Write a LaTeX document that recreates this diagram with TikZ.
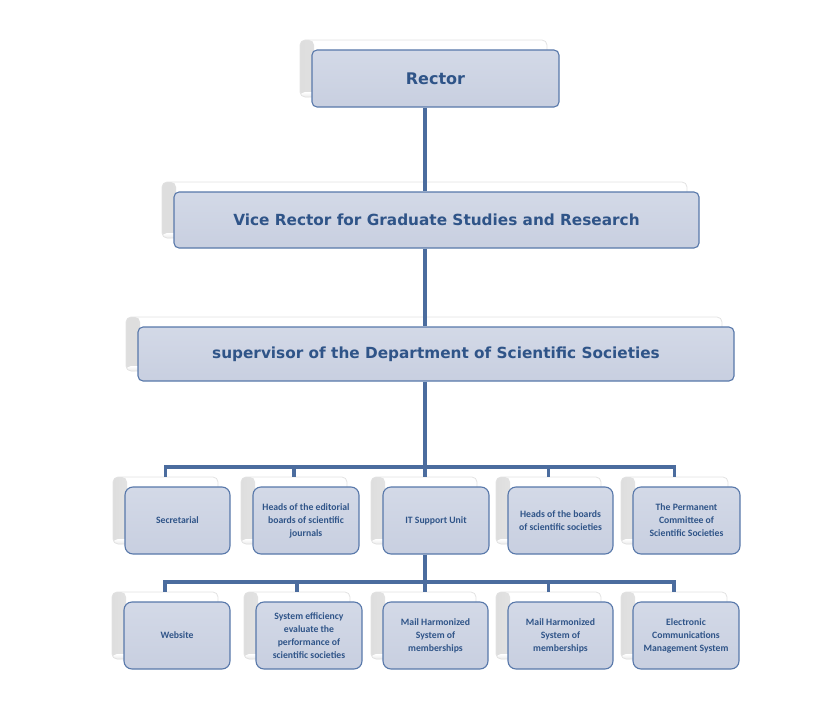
\documentclass[tikz,border=0pt]{standalone}
\usepackage{fontspec}
\setmainfont{DejaVu Sans}
\newfontfamily\smallfont{Carlito}
\definecolor{frontfill}{HTML}{C8CFE0}
\definecolor{frontfilltop}{HTML}{D3D9E7}
\definecolor{frontdraw}{HTML}{5878AA}
\definecolor{txtblue}{HTML}{2F5488}
\definecolor{linkblue}{HTML}{4B6C9E}
\definecolor{backdraw}{HTML}{E2E2E2}
\tikzset{
  frontbox/.style={draw=frontdraw, line width=1.1pt, top color=frontfilltop, bottom color=frontfill,
    rounded corners=5pt, inner sep=0pt, align=center, text=txtblue},
  backbox/.style={draw=backdraw, line width=0.8pt, fill=white, rounded corners=5pt, inner sep=0pt,
    path picture={\shade[left color=black!13, right color=white]
      (path picture bounding box.south west) rectangle ([xshift=14pt]path picture bounding box.north west);
      \shade[top color=white, bottom color=black!8]
      ([yshift=5pt]path picture bounding box.south west) rectangle (path picture bounding box.south east);}},
  bigtext/.style={font=\fontsize{15.3}{18}\selectfont\bfseries},
  smalltext/.style={font=\smallfont\fontsize{9.7}{13}\selectfont\bfseries, rounded corners=8pt},
  link/.style={draw=linkblue, line width=3.1pt},
}
% #1 name, #2 x1, #3 y1, #4 x2, #5 y2, #6 style, #7 text
\newcommand{\orgbox}[7]{%
  \node[backbox, minimum width={#4-#2}, minimum height={#5-#3}] (#1b) at ({(#2+#4)/2-12},{(#3+#5)/2-10}) {};
  \node[frontbox, #6, minimum width={#4-#2}, minimum height={#5-#3}] (#1) at ({(#2+#4)/2},{(#3+#5)/2}) {#7};
}
\begin{document}
\begin{tikzpicture}[x=1pt,y=-1pt]
\useasboundingbox (0,0) rectangle (835,717);
\coordinate (busA) at (0,467);
\coordinate (busB) at (0,582);
% boxes
\orgbox{rector}{312}{50}{559}{107}{bigtext,font=\fontsize{16}{18}\selectfont\bfseries}{Rector}
\orgbox{vice}{174}{192}{699}{248}{bigtext}{Vice Rector for Graduate Studies and Research}
\orgbox{sup}{138}{327}{734}{381}{bigtext}{supervisor of the Department of Scientific Societies}
\orgbox{sec}{125}{487}{230}{554}{smalltext}{Secretarial}
\orgbox{edit}{253}{487}{359}{554}{smalltext}{Heads of the editorial\\boards of scientific\\journals}
\orgbox{it}{383}{487}{489}{554}{smalltext}{IT Support Unit}
\orgbox{boards}{508}{487}{613}{554}{smalltext}{Heads of the boards\\of scientific societies}
\orgbox{perm}{633}{487}{740}{554}{smalltext}{The Permanent\\Committee of\\Scientific Societies}
\orgbox{web}{124}{602}{230}{669}{smalltext}{Website}
\orgbox{eff}{256}{602}{362}{669}{smalltext}{System efficiency\\evaluate the\\performance of\\scientific societies}
\orgbox{mailA}{383}{602}{488}{669}{smalltext}{Mail Harmonized\\System of\\memberships}
\orgbox{mailB}{508}{602}{613}{669}{smalltext}{Mail Harmonized\\System of\\memberships}
\orgbox{ecms}{633}{602}{739}{669}{smalltext}{Electronic\\Communications\\Management System}
% connectors
\draw[link] (rector.south -| 425,0) -- (vice.north -| 425,0);
\draw[link] (vice.south -| 425,0) -- (sup.north -| 425,0);
\draw[link] (sup.south -| 425,0) -- (425,467);
\draw[link] (secb.north) -- (secb.north |- busA) -- (permb.north |- busA) -- (permb.north);
\draw[link] (editb.north) -- (editb.north |- busA);
\draw[link] (boardsb.north) -- (boardsb.north |- busA);
\draw[link] (425,467) -- (itb.north -| 425,0);
\draw[link] (it.south -| 425,0) -- (425,582);
\draw[link] (webb.north) -- (webb.north |- busB) -- (ecmsb.north |- busB) -- (ecmsb.north);
\draw[link] (effb.north) -- (effb.north |- busB);
\draw[link] (mailBb.north) -- (mailBb.north |- busB);
\draw[link] (425,582) -- (mailAb.north -| 425,0);
\end{tikzpicture}
\end{document}
